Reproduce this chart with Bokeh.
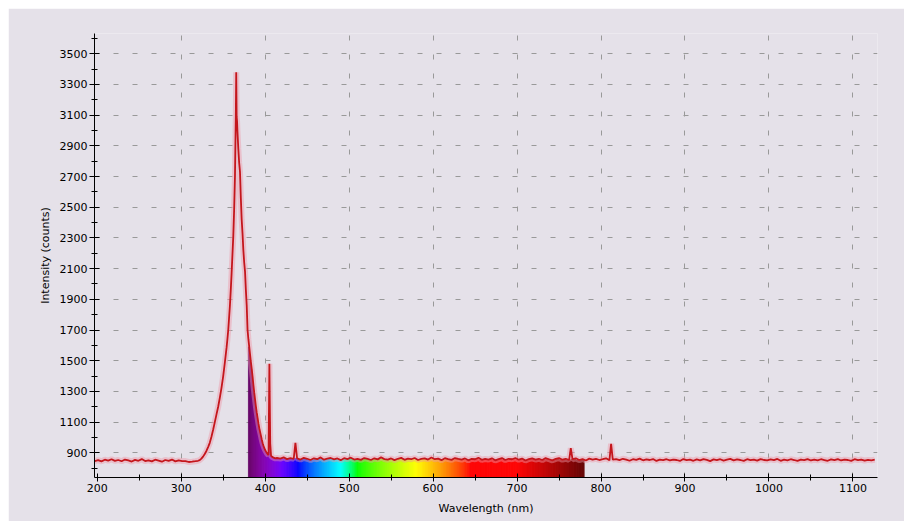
from bokeh.plotting import figure
from bokeh.models import FixedTicker
from bokeh.embed import file_html
from bokeh.resources import INLINE

# ---- data ----
wl_left = [197, 201, 205, 209, 213, 217, 221, 225, 229, 233, 237, 241, 245, 249, 253,
           257, 261, 265, 269, 273, 277, 281, 285, 289, 293, 297, 301, 305, 309, 313, 317]
int_left = [846, 852, 844, 855, 849, 858, 847, 853, 845, 856, 850, 843, 854, 848, 859,
            846, 851, 844, 855, 849, 842, 853, 847, 856, 844, 850, 846, 846, 840, 842, 845]

wl_peak = [320, 322, 324, 326, 328, 330, 332, 334, 336, 338, 340, 342, 344, 346, 348,
           350, 352, 354, 355, 356, 357, 358, 359, 360, 361, 362, 363, 364, 364.5, 365,
           365.5, 366, 366.5, 367, 368, 369, 370, 371, 372, 373, 374, 375, 376, 377, 378,
           379, 380, 381, 382, 383, 384, 385, 386, 387, 388, 389, 390, 391, 392, 393,
           394, 395, 396, 397, 398, 399, 400, 401, 402, 403, 404, 405, 406, 407, 408,
           410, 412]
int_peak = [848, 852, 862, 875, 892, 912, 937, 965, 1005, 1050, 1100, 1150, 1200, 1260, 1325,
            1400, 1490, 1585, 1640, 1700, 1780, 1860, 1960, 2070, 2190, 2310, 2480, 2700, 2900, 3090,
            3380, 3090, 3060, 2990, 2880, 2790, 2730, 2560, 2420, 2330, 2220, 2140, 2080, 1960, 1860,
            1700, 1640, 1590, 1540, 1490, 1445, 1395, 1340, 1290, 1245, 1200, 1160, 1125, 1090, 1060,
            1035, 1010, 985, 962, 945, 930, 918, 908, 898, 890, 885, 1480, 960, 880, 875,
            868, 864]

wl_right = [414, 418, 422, 426, 430, 434, 436, 438, 442, 446, 450, 454, 458, 462, 466,
            470, 474, 478, 482, 486, 490, 494, 498, 502, 506, 510, 514, 518, 522, 526,
            530, 534, 538, 542, 546, 550, 554, 558, 562, 566, 570, 574, 578, 582, 586,
            590, 594, 598, 602, 606, 610, 614, 618, 622, 626, 630, 634, 638, 642, 646,
            650, 654, 658, 662, 666, 670, 674, 678, 682, 686, 690, 694, 698, 702, 706,
            710, 714, 718, 722, 726, 730, 734, 738, 742, 746, 750, 754, 758, 762, 764,
            766, 770, 774, 778, 782, 786, 790, 794, 798, 802, 806, 810, 812, 814, 818,
            822, 826, 830, 834, 838, 842, 846, 850, 854, 858, 862, 866, 870, 874, 878,
            882, 886, 890, 894, 898, 902, 906, 910, 914, 918, 922, 926, 930, 934, 938,
            942, 946, 950, 954, 958, 962, 966, 970, 974, 978, 982, 986, 990, 994, 998,
            1002, 1006, 1010, 1014, 1018, 1022, 1026, 1030, 1034, 1038, 1042, 1046, 1050, 1054, 1058,
            1062, 1066, 1070, 1074, 1078, 1082, 1086, 1090, 1094, 1098, 1102, 1106, 1110, 1114, 1118,
            1122, 1126]
int_right = [866, 862, 870, 859, 865, 861, 965, 864, 856, 867, 861, 853, 864, 858, 870,
             855, 862, 866, 857, 863, 852, 865, 859, 868, 856, 861, 854, 866, 860, 853,
             864, 857, 870, 859, 855, 863, 852, 861, 867, 854, 862, 858, 866, 853, 860,
             864, 856, 869, 858, 862, 852, 865, 859, 854, 866, 860, 855, 863, 851, 861,
             858, 868, 854, 860, 856, 864, 851, 859, 865, 853, 861, 858, 866, 855, 862,
             850, 859, 864, 856, 861, 853, 865, 858, 851, 860, 866, 855, 861, 853, 930,
             858, 864, 853, 859, 850, 862, 855, 860, 853, 858, 864, 851, 958, 855, 859,
             852, 861, 856, 848, 858, 854, 862, 851, 857, 853, 859, 847, 855, 852, 858,
             850, 856, 853, 847, 859, 852, 855, 848, 857, 851, 859, 854, 846, 857, 852,
             858, 849, 855, 860, 851, 857, 853, 847, 858, 852, 856, 849, 859, 853, 850,
             857, 852, 860, 848, 855, 851, 858, 853, 847, 856, 852, 859, 850, 855, 851,
             858, 853, 848, 857, 852, 859, 850, 855, 853, 847, 858, 852, 856, 849, 854,
             851, 855]

wavelength = wl_left + wl_peak + wl_right
intensity = int_left + int_peak + int_right

visible_band = (380, 780)          # nm, coloured under the curve

x_major_ticks = [200, 300, 400, 500, 600, 700, 800, 900, 1000, 1100]
x_minor_ticks = [250, 350, 450, 550, 650, 750, 850, 950, 1050]
x_grid_ticks = [300, 400, 500, 600, 700, 800, 900, 1000, 1100]
y_major_ticks = [900, 1100, 1300, 1500, 1700, 1900, 2100, 2300, 2500, 2700, 2900, 3100, 3300, 3500]
y_minor_ticks = [800, 1000, 1200, 1400, 1600, 1800, 2000, 2200, 2400, 2600, 2800, 3000, 3200, 3400, 3600]

X_START, X_END = 196.7, 1129.3
Y_START, Y_END = 739, 3632

BG = "#E5E1E9"
FONT = "DejaVu Sans"


def spectral_color(w):
    """Classic wavelength -> visible RGB approximation (colour styling only)."""
    if w < 440:
        r, g, b = (440 - w) / 60.0, 0.0, 1.0
    elif w < 490:
        r, g, b = 0.0, (w - 440) / 50.0, 1.0
    elif w < 510:
        r, g, b = 0.0, 1.0, (510 - w) / 20.0
    elif w < 580:
        r, g, b = (w - 510) / 70.0, 1.0, 0.0
    elif w < 645:
        r, g, b = 1.0, (645 - w) / 65.0, 0.0
    else:
        r, g, b = 1.0, 0.0, 0.0
    if w < 420:
        f = 0.3 + 0.7 * (w - 380) / 40.0
    elif w > 700:
        f = 0.3 + 0.7 * (780 - w) / 80.0
    else:
        f = 1.0
    def c(v):
        return int(round(255 * ((v * f) ** 0.8))) if v > 0 else 0
    return "#%02x%02x%02x" % (c(r), c(g), c(b))


p = figure(width=896, height=513, x_range=(X_START, X_END), y_range=(Y_START, Y_END),
           output_backend="svg", toolbar_location=None,
           min_border_left=86, min_border_right=27, min_border_top=25, min_border_bottom=44,
           styles={"margin-left": "8px", "margin-top": "8px"})
p.background_fill_color = BG
p.border_fill_color = BG
p.outline_line_color = None

# coloured visible-band area under the curve, built from the data samples
lefts, rights, tops, cols = [], [], [], []
lo, hi = visible_band
for i in range(len(wavelength) - 1):
    w0, w1 = wavelength[i], wavelength[i + 1]
    if w1 <= lo or w0 >= hi:
        continue
    top = min(intensity[i], intensity[i + 1])
    a, b = max(w0, lo), min(w1, hi)
    n = max(1, int(round(b - a)))
    for k in range(n):
        l = a + (b - a) * k / n
        r = a + (b - a) * (k + 1) / n
        lefts.append(l)
        rights.append(r)
        tops.append(top)
        cols.append(spectral_color((l + r) / 2))
p.quad(left=lefts, right=rights, bottom=Y_START, top=tops,
       fill_color=cols, line_color=cols, line_width=0.6)

# spectrum line with soft halo
p.line(wavelength, intensity, line_color="#EE9AA8", line_width=6, line_alpha=0.45)
p.line(wavelength, intensity, line_color="#C4161C", line_width=1.8)

# axes
xa = p.xaxis[0]
ya = p.yaxis[0]
xa.ticker = FixedTicker(ticks=x_major_ticks, minor_ticks=x_minor_ticks)
ya.ticker = FixedTicker(ticks=y_major_ticks, minor_ticks=y_minor_ticks)
xa.axis_label = "Wavelength (nm)"
ya.axis_label = "Intensity (counts)"
for ax in (xa, ya):
    ax.axis_line_color = "black"
    ax.axis_line_width = 1
    ax.major_tick_line_color = "black"
    ax.minor_tick_line_color = "black"
    ax.major_label_text_font = FONT
    ax.major_label_text_font_size = "11px"
    ax.major_label_text_color = "black"
    ax.axis_label_text_font = FONT
    ax.axis_label_text_font_size = "11px"
    ax.axis_label_text_font_style = "normal"
    ax.axis_label_text_color = "black"
xa.major_label_standoff = 2
ya.major_label_standoff = 2
xa.major_tick_in = 4
xa.major_tick_out = 4
xa.minor_tick_in = 3
xa.minor_tick_out = 3
xa.axis_label_standoff = 7
ya.major_tick_in = 5
ya.major_tick_out = 5
ya.minor_tick_in = 3
ya.minor_tick_out = 3
ya.axis_label_standoff = 5

# dashed grid
p.xgrid.ticker = FixedTicker(ticks=x_grid_ticks)
p.ygrid.ticker = FixedTicker(ticks=y_major_ticks)
for g in (p.xgrid, p.ygrid):
    g.grid_line_color = "#999999"
    g.grid_line_width = 1
    g.grid_line_dash = "5 14"

open("out.html", "w").write(file_html(p, INLINE))
